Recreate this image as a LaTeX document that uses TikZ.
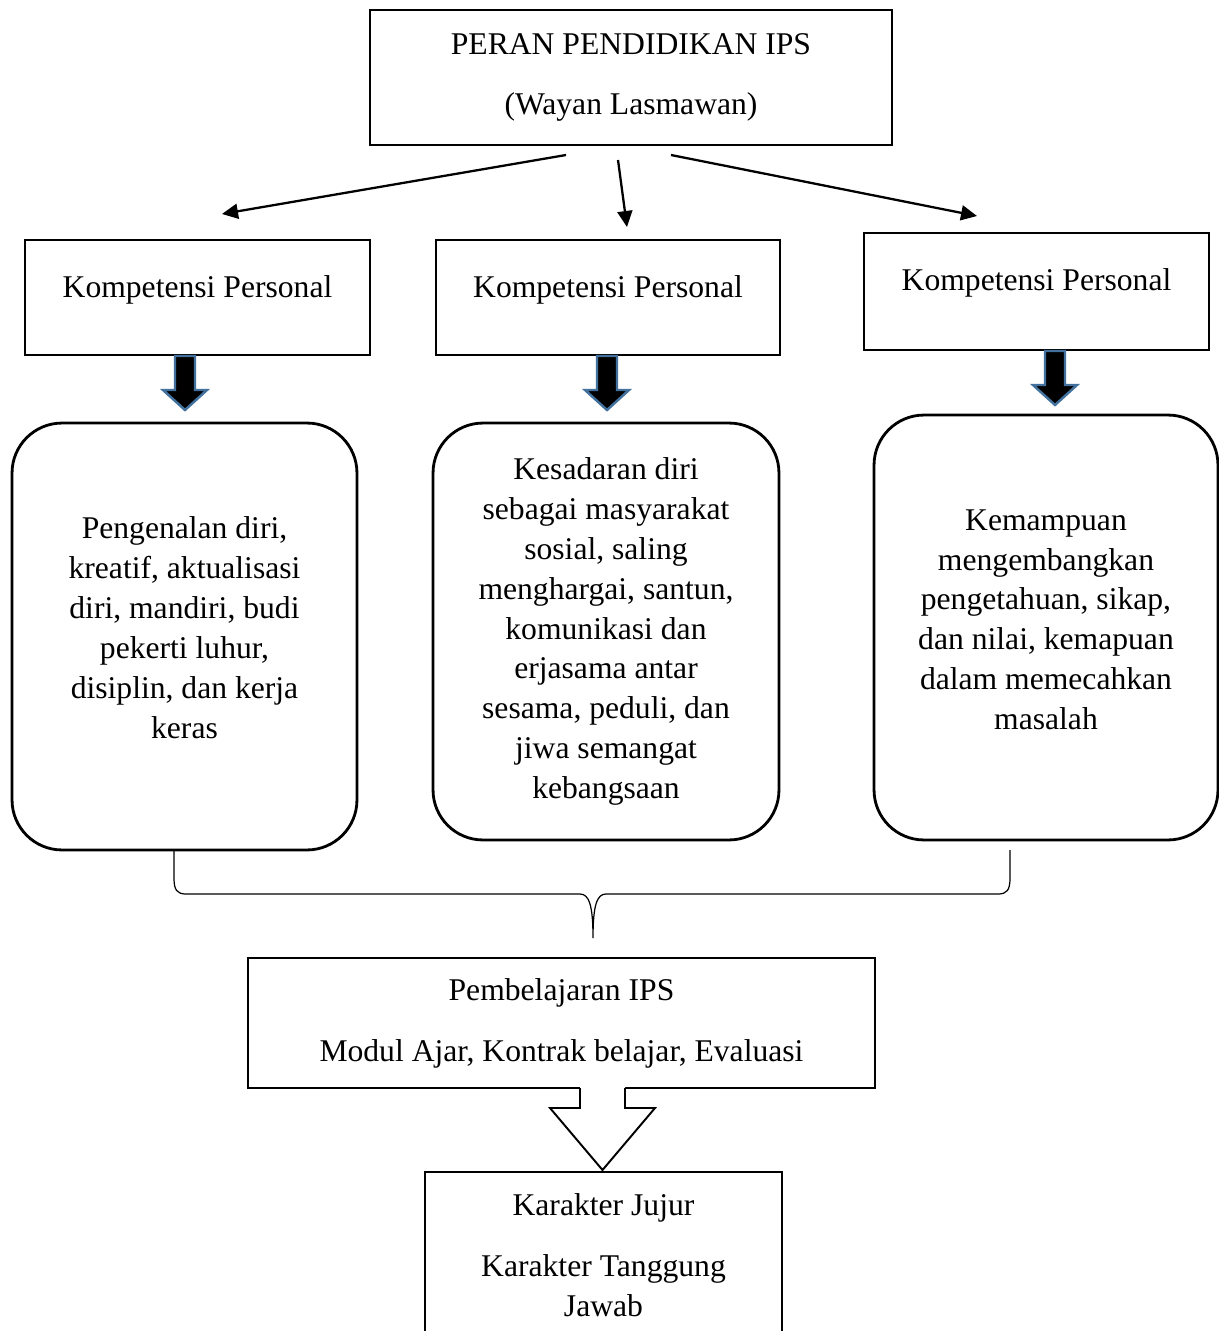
\documentclass[tikz,border=0pt]{standalone}
\usepackage{fontspec}
\setmainfont{Liberation Serif}
\usetikzlibrary{arrows.meta,positioning}
\definecolor{biruGaris}{RGB}{65,113,156}

\begin{document}
\begin{tikzpicture}[x=0.02cm, y=-0.02cm, line join=miter,
  >={Triangle[length=0.32cm,width=0.3cm]},
  font=\fontsize{18}{22.7}\selectfont,
  kotak/.style={draw, line width=1.1pt, align=center, inner sep=0pt},
  kotakbulat/.style={draw, line width=1.6pt, rounded corners=1cm, align=center, inner sep=0pt},
  panahtipis/.style={->, line width=1.3pt},
  panahtebal/.style={fill=black, draw=biruGaris, line width=1.4pt},
  kurung/.style={line width=0.7pt}]

% --- Page frame (pixel units) ---
\useasboundingbox (0,0) rectangle (1219,1331);

% --- Top box ---
\node[kotak, minimum width=10.44cm, minimum height=2.7cm] (peran) at (631,77.5)
  {PERAN PENDIDIKAN IPS\\[0.42cm] (Wayan Lasmawan)};

% --- Competence boxes ---
\node[kotak, text depth=0.42cm, minimum width=6.9cm, minimum height=2.3cm] (komp1) at (197.5,297.5) {Kompetensi Personal};
\node[kotak, text depth=0.42cm, minimum width=6.88cm, minimum height=2.3cm] (komp2) at (608,297.5) {Kompetensi Personal};
\node[kotak, text depth=0.46cm, minimum width=6.9cm, minimum height=2.34cm] (komp3) at (1036.5,291.5) {Kompetensi Personal};

% --- Arrows from top box ---
\coordinate (dari1) at (566,155);
\coordinate (dari2) at (618,160);
\coordinate (dari3) at (671,155);
\coordinate (ke1) at (222,214);
\coordinate (ke2) at (627,227);
\coordinate (ke3) at (977,216);
\draw[panahtipis] (dari1) -- (ke1);
\draw[panahtipis] (dari2) -- (ke2);
\draw[panahtipis] (dari3) -- (ke3);

% --- Thick arrows ---
\foreach \ax/\ay in {185/356, 607/356, 1055/351}
  \filldraw[panahtebal] (\ax-10,\ay) -- (\ax-10,\ay+34) -- (\ax-22,\ay+34) -- (\ax,\ay+54)
    -- (\ax+22,\ay+34) -- (\ax+10,\ay+34) -- (\ax+10,\ay) -- cycle;

% --- Description boxes ---
\node[kotakbulat, text depth=0.36cm, minimum width=6.9cm, minimum height=8.54cm] (isi1) at (184.5,636.5)
  {Pengenalan diri,\\ kreatif, aktualisasi\\ diri, mandiri, budi\\ pekerti luhur,\\ disiplin, dan kerja\\ keras};
\node[kotakbulat, minimum width=6.92cm, minimum height=8.34cm] (isi2) at (606,631.5)
  {Kesadaran diri\\ sebagai masyarakat\\ sosial, saling\\ menghargai, santun,\\ komunikasi dan\\ erjasama antar\\ sesama, peduli, dan\\ jiwa semangat\\ kebangsaan};
\node[kotakbulat, text depth=0.32cm, minimum width=6.88cm, minimum height=8.5cm] (isi3) at (1046,627.5)
  {Kemampuan\\ mengembangkan\\ pengetahuan, sikap,\\ dan nilai, kemapuan\\ dalam memecahkan\\ masalah};

% --- Brace ---
\coordinate (kurungKiri) at (174,850);
\coordinate (kurungKanan) at (1010,850);
\coordinate (kurungUjung) at (593,938);
\draw[kurung] (kurungKiri) -- (174,878) .. controls (174,890) and (177,894) .. (186,894)
  -- (580,894) .. controls (589,894) and (593,905) .. (kurungUjung)
  .. controls (593,905) and (597,894) .. (606,894)
  -- (998,894) .. controls (1007,894) and (1010,890) .. (1010,878) -- (kurungKanan);

% --- Learning box ---
\node[kotak, minimum width=12.54cm, minimum height=2.6cm] (ajar) at (561.5,1023)
  {Pembelajaran IPS\\[0.42cm] Modul Ajar, Kontrak belajar, Evaluasi};

% --- Hollow arrow ---
\fill[white] (580,1080) -- (580,1108) -- (550,1108) -- (602.5,1170) -- (655,1108)
  -- (625,1108) -- (625,1080) -- cycle;
\draw[line width=1.1pt] (580,1088) -- (580,1108) -- (550,1108) -- (602.5,1170)
  -- (655,1108) -- (625,1108) -- (625,1088);

% --- Character box ---
\node[kotak, minimum width=7.14cm, minimum height=3.32cm] (karakter) at (603.5,1255)
  {Karakter Jujur\\[0.42cm] Karakter Tanggung\\ Jawab};

\end{tikzpicture}
\end{document}
